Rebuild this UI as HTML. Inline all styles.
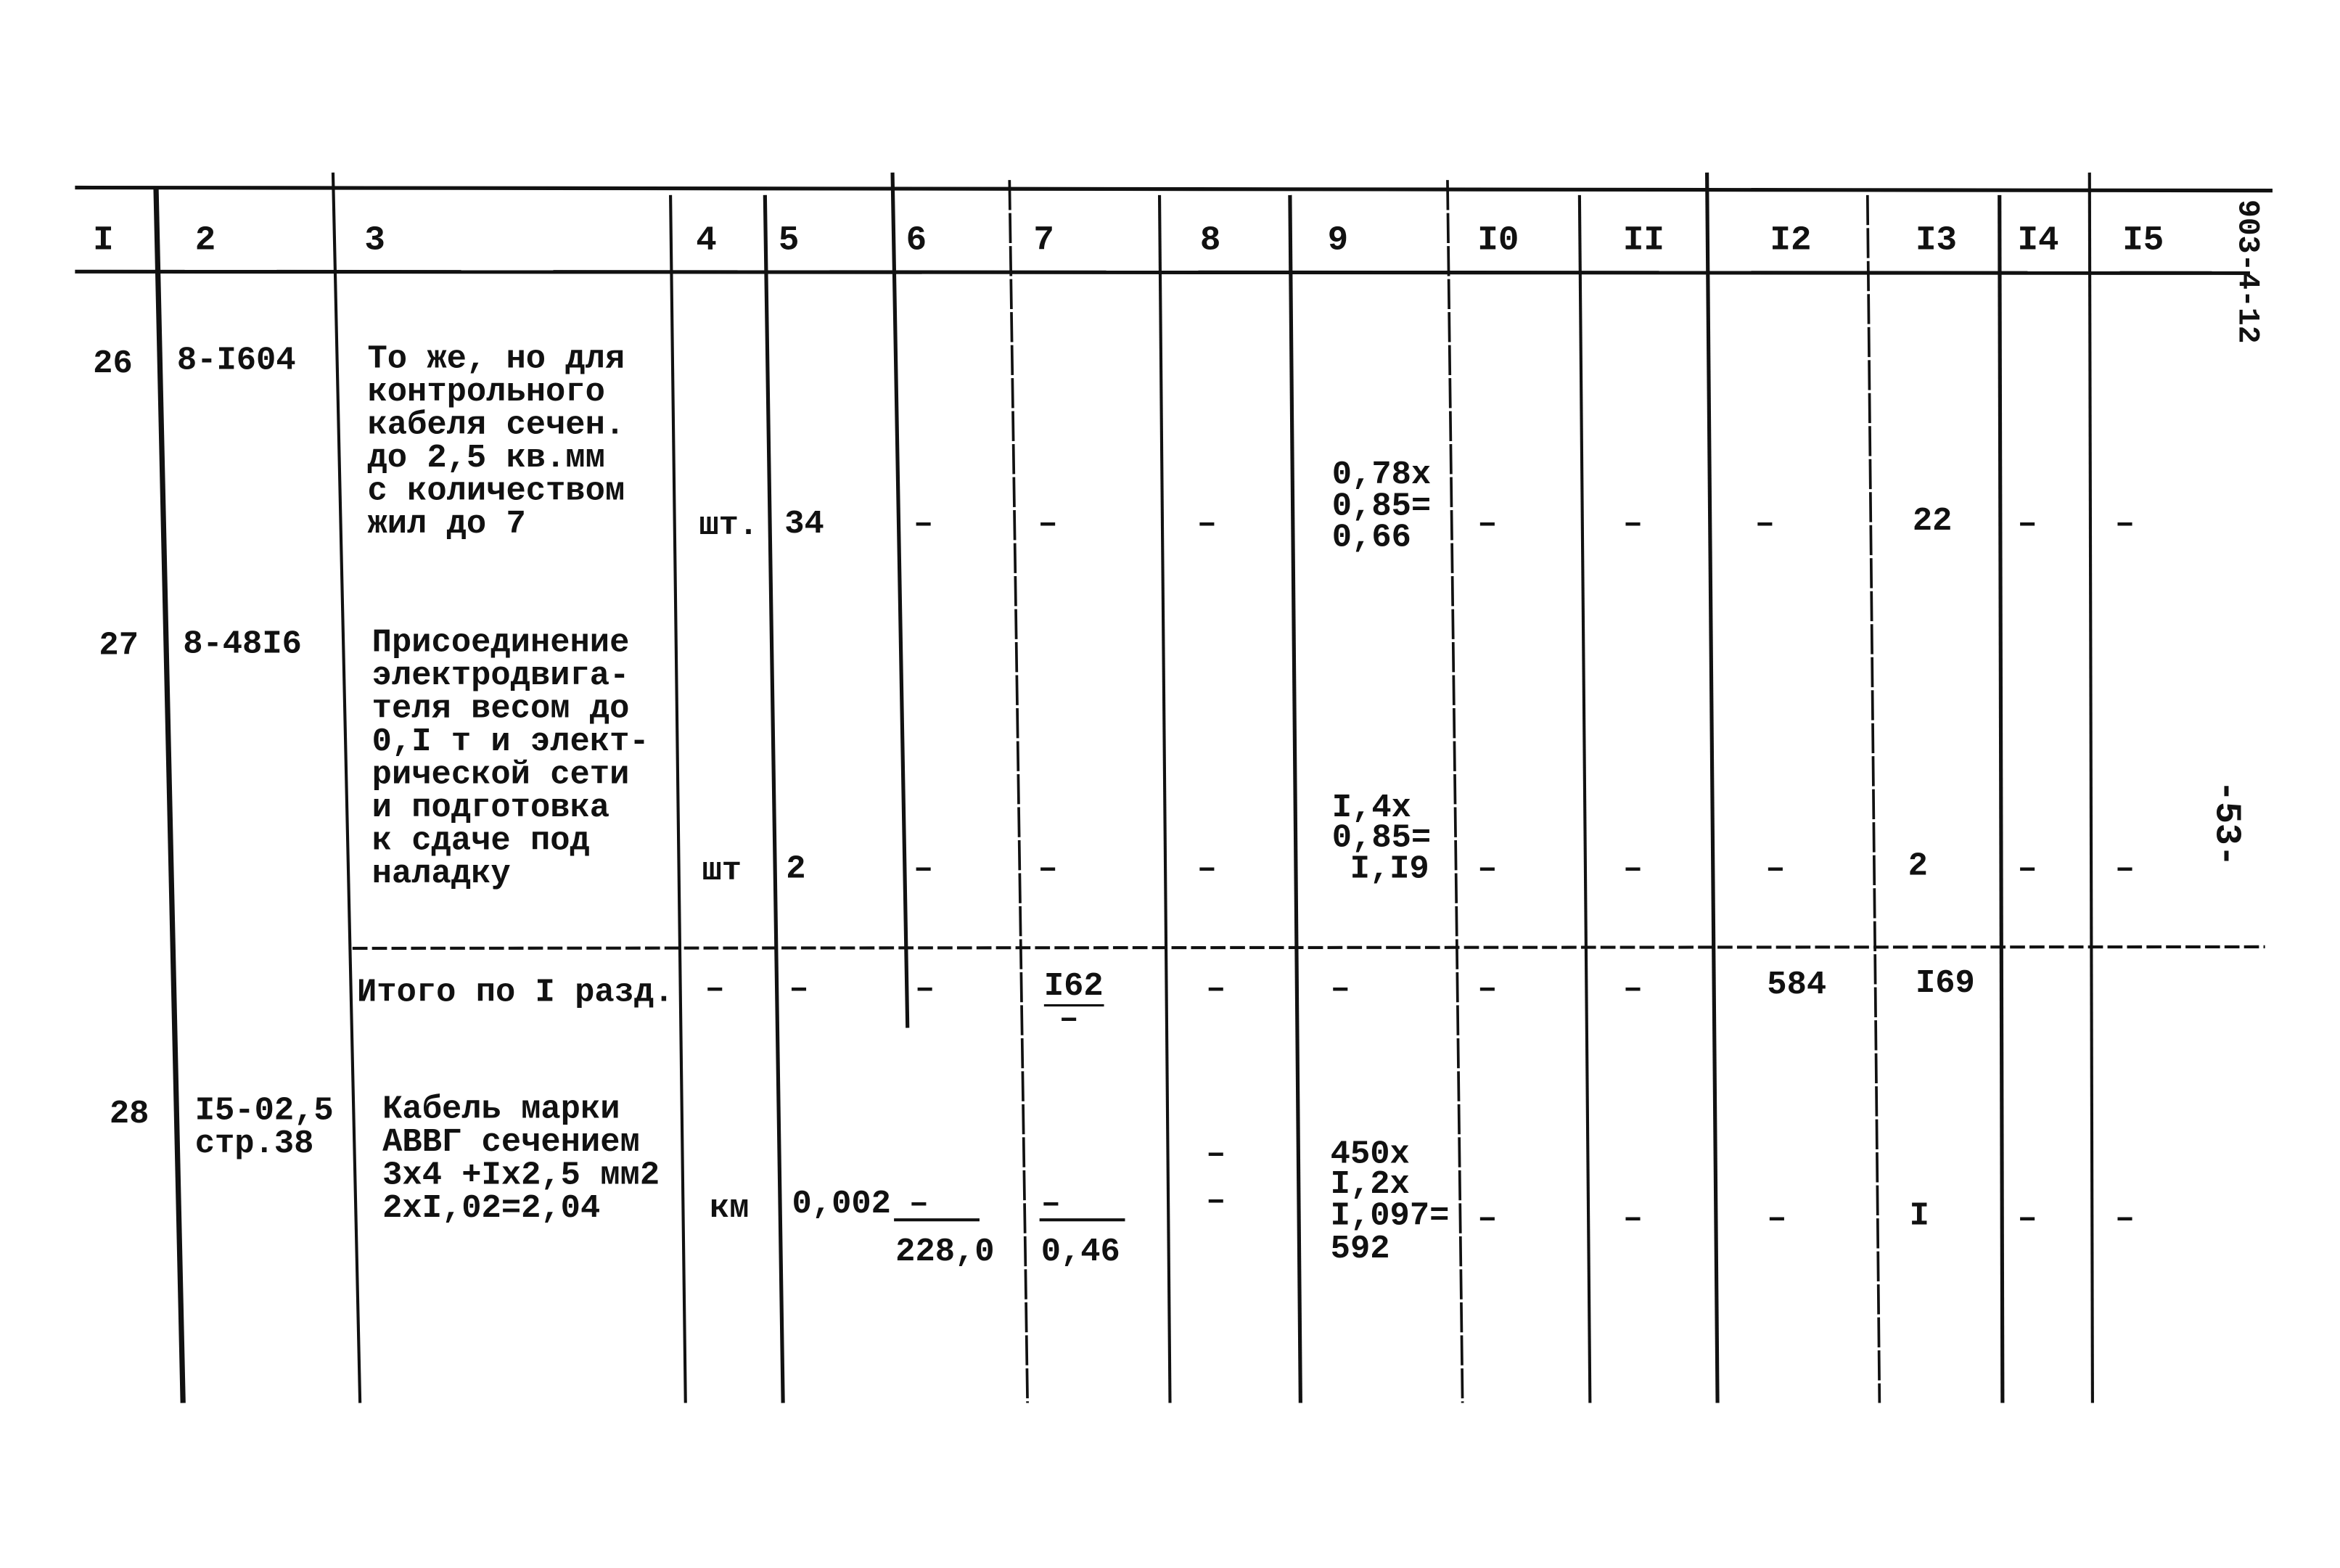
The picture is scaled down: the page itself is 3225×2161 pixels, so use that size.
<!DOCTYPE html>
<html><head><meta charset="utf-8"><style>
html,body{margin:0;padding:0;background:#fff;}
svg{display:block;}
text{font-family:"Liberation Mono","DejaVu Sans Mono",monospace;fill:#111;font-weight:bold;}
</style></head><body>
<svg width="3225" height="2161" viewBox="0 0 1560 1045" preserveAspectRatio="none" xmlns="http://www.w3.org/2000/svg">
<rect width="1560" height="1045" fill="#fff"/>
<g stroke="#111" fill="none">
<line x1="50" y1="125" x2="1515" y2="127" stroke-width="2.5"/>
<line x1="50" y1="181" x2="1500" y2="182" stroke-width="2.5"/>
<line x1="235" y1="632" x2="1510" y2="631" stroke-width="2" stroke-dasharray="10,3"/>
<line x1="104" y1="125" x2="122" y2="935" stroke-width="3.5"/>
<line x1="222" y1="115" x2="240" y2="935" stroke-width="2"/>
<line x1="447" y1="130" x2="457" y2="935" stroke-width="2"/>
<line x1="510" y1="130" x2="522" y2="935" stroke-width="2.5"/>
<line x1="595" y1="115" x2="605" y2="685" stroke-width="2.5"/>
<line x1="673" y1="120" x2="685" y2="935" stroke-width="1.8" stroke-dasharray="20,2"/>
<line x1="773" y1="130" x2="780" y2="935" stroke-width="2"/>
<line x1="860" y1="130" x2="867" y2="935" stroke-width="2.5"/>
<line x1="965" y1="120" x2="975" y2="935" stroke-width="1.8" stroke-dasharray="20,2"/>
<line x1="1053" y1="130" x2="1060" y2="935" stroke-width="2"/>
<line x1="1138" y1="115" x2="1145" y2="935" stroke-width="2.5"/>
<line x1="1245" y1="130" x2="1253" y2="935" stroke-width="1.8" stroke-dasharray="20,2"/>
<line x1="1333" y1="130" x2="1335" y2="935" stroke-width="2.5"/>
<line x1="1393" y1="115" x2="1395" y2="935" stroke-width="2"/>
<line x1="596" y1="813" x2="653" y2="813" stroke-width="2"/>
<line x1="693" y1="813" x2="750" y2="813" stroke-width="2"/>
<line x1="696" y1="670" x2="736" y2="670" stroke-width="1.5"/>
</g>
<g font-size="23">
<text x="62" y="166">I</text><text x="130" y="166">2</text><text x="243" y="166">3</text>
<text x="464" y="166">4</text><text x="519" y="166">5</text><text x="604" y="166">6</text>
<text x="689" y="166">7</text><text x="800" y="166">8</text><text x="885" y="166">9</text>
<text x="985" y="166">I0</text><text x="1082" y="166">II</text><text x="1180" y="166">I2</text>
<text x="1277" y="166">I3</text><text x="1345" y="166">I4</text><text x="1415" y="166">I5</text>
</g>
<g font-size="22">
<text x="62" y="248">26</text><text x="118" y="246">8-I604</text>
<text x="245" y="245">То же, но для</text>
<text x="245" y="267">контрольного</text>
<text x="245" y="289">кабеля сечен.</text>
<text x="245" y="311">до 2,5 кв.мм</text>
<text x="245" y="333">с количеством</text>
<text x="245" y="355">жил до 7</text>
<text x="466" y="356">шт.</text><text x="523" y="355">34</text>
<text x="609" y="355">–</text><text x="692" y="355">–</text><text x="798" y="355">–</text>
<text x="888" y="322">0,78x</text><text x="888" y="343">0,85=</text><text x="888" y="364">0,66</text>
<text x="985" y="355">–</text><text x="1082" y="355">–</text><text x="1170" y="355">–</text>
<text x="1275" y="353">22</text><text x="1345" y="355">–</text><text x="1410" y="355">–</text>

<text x="66" y="436">27</text><text x="122" y="435">8-48I6</text>
<text x="248" y="434">Присоединение</text>
<text x="248" y="456">электродвига-</text>
<text x="248" y="478">теля весом до</text>
<text x="248" y="500">0,I т и элект-</text>
<text x="248" y="522">рической сети</text>
<text x="248" y="544">и подготовка</text>
<text x="248" y="566">к сдаче под</text>
<text x="248" y="588">наладку</text>
<text x="468" y="586">шт</text><text x="524" y="585">2</text>
<text x="609" y="585">–</text><text x="692" y="585">–</text><text x="798" y="585">–</text>
<text x="888" y="544">I,4x</text><text x="888" y="564">0,85=</text><text x="900" y="585">I,I9</text>
<text x="985" y="585">–</text><text x="1082" y="585">–</text><text x="1177" y="585">–</text>
<text x="1272" y="583">2</text><text x="1345" y="585">–</text><text x="1410" y="585">–</text>

<text x="238" y="667">Итого по I разд.</text>
<text x="470" y="665">–</text><text x="526" y="665">–</text><text x="610" y="665">–</text>
<text x="696" y="663">I62</text><text x="706" y="685">–</text>
<text x="804" y="665">–</text><text x="887" y="665">–</text><text x="985" y="665">–</text>
<text x="1082" y="665">–</text><text x="1178" y="662">584</text><text x="1277" y="661">I69</text>

<text x="73" y="748">28</text><text x="130" y="746">I5-02,5</text><text x="130" y="768">стр.38</text>
<text x="255" y="745">Кабель марки</text>
<text x="255" y="767">АВВГ сечением</text>
<text x="255" y="789">3x4 +Ix2,5 мм2</text>
<text x="255" y="811">2xI,02=2,04</text>
<text x="473" y="811">км</text><text x="528" y="808">0,002</text><text x="606" y="808">–</text>
<text x="597" y="840">228,0</text>
<text x="694" y="808">–</text><text x="694" y="840">0,46</text>
<text x="804" y="775">–</text><text x="804" y="806">–</text>
<text x="887" y="775">450x</text><text x="887" y="795">I,2x</text><text x="887" y="816">I,097=</text><text x="887" y="838">592</text>
<text x="985" y="818">–</text><text x="1082" y="818">–</text><text x="1178" y="818">–</text>
<text x="1273" y="816">I</text><text x="1345" y="818">–</text><text x="1410" y="818">–</text>

<text transform="translate(1493,133) rotate(90)" font-size="20">903-4-12</text>
<text transform="translate(1478,520) rotate(90)" font-size="24">-53-</text>
</g>
</svg>
</body></html>
